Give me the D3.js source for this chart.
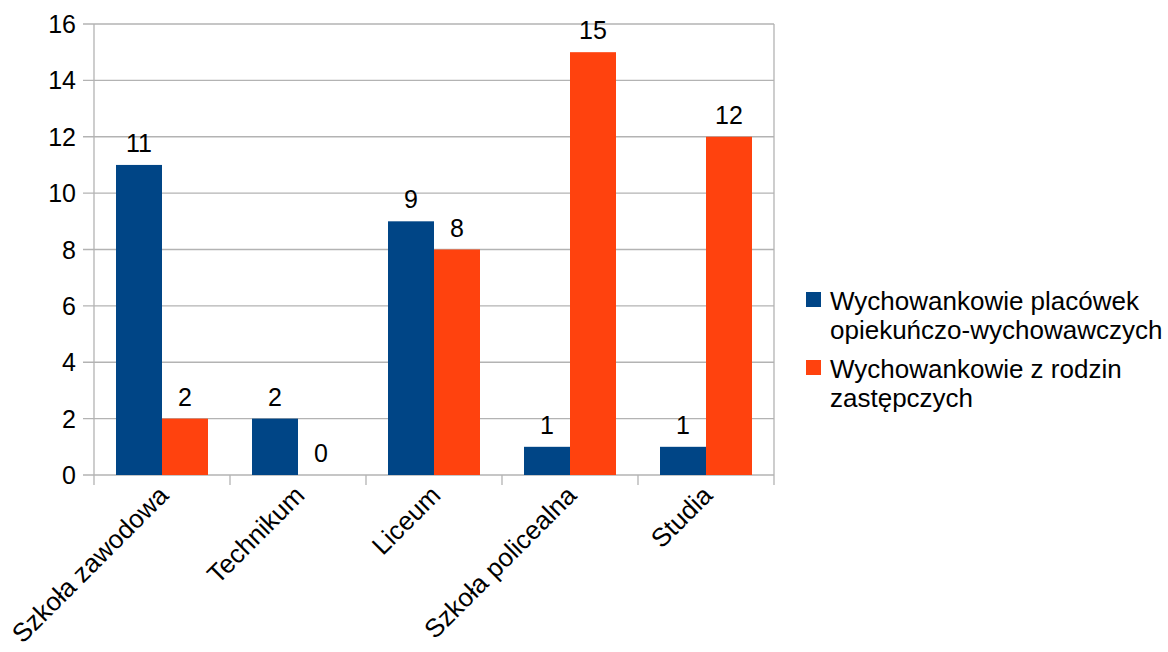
<!DOCTYPE html>
<html><head><meta charset="utf-8">
<script src="https://cdn.jsdelivr.net/npm/d3@7"></script>
<style>body{margin:0;background:#fff}svg{display:block}text{font-family:"Liberation Sans",Arial,sans-serif}</style>
</head><body>
<svg id="c" width="1168" height="652"></svg>
<script>
const categories = ["Szkoła zawodowa","Technikum","Liceum","Szkoła policealna","Studia"];
const seriesNames = [["Wychowankowie placówek","opiekuńczo-wychowawczych"],["Wychowankowie z rodzin","zastępczych"]];
const seriesA = [11,2,9,1,1];
const seriesB = [2,0,8,15,12];
const yTicks = [0,2,4,6,8,10,12,14,16];
const colors = ["#004586","#ff420e"];

const svg = d3.select("#c");
const L=94,R=774,T=24,B=475;
const x = d3.scaleBand().domain(categories).range([L,R]);
const y = d3.scaleLinear().domain([0,16]).range([B,T]);
const grid="#b3b3b3";
const fs=25;

svg.append("g").selectAll("line").data(yTicks).join("line")
  .attr("x1",L-11).attr("x2",R).attr("y1",d=>y(d)).attr("y2",d=>y(d))
  .attr("stroke",grid).attr("stroke-width",1.3);
svg.append("g").selectAll("text").data(yTicks).join("text")
  .attr("x",L-18).attr("y",d=>y(d)+9).attr("text-anchor","end").attr("font-size",fs).text(d=>d);
svg.append("line").attr("x1",L).attr("x2",L).attr("y1",T).attr("y2",B+10).attr("stroke",grid).attr("stroke-width",1.3);
svg.append("line").attr("x1",R).attr("x2",R).attr("y1",T).attr("y2",B+10).attr("stroke",grid).attr("stroke-width",1.3);
svg.append("g").selectAll("line").data(categories.slice(1)).join("line")
  .attr("x1",d=>x(d)).attr("x2",d=>x(d)).attr("y1",B).attr("y2",B+10).attr("stroke",grid).attr("stroke-width",1.3);

const bw=46, off=(x.bandwidth()-2*bw)/2;
[seriesA,seriesB].forEach((s,si)=>{
  const g=svg.append("g");
  g.selectAll("rect").data(s).join("rect")
    .attr("x",(d,i)=>x(categories[i])+off+si*bw).attr("width",bw)
    .attr("y",d=>y(d)).attr("height",d=>B-y(d)).attr("fill",colors[si]);
  g.selectAll("text").data(s).join("text")
    .attr("x",(d,i)=>x(categories[i])+off+si*bw+bw/2).attr("y",d=>y(d)-13)
    .attr("text-anchor","middle").attr("font-size",fs).text(d=>d);
});

svg.append("g").selectAll("text").data(categories).join("text")
  .attr("transform",d=>`translate(${x(d)+x.bandwidth()/2+8},${B+22}) rotate(-45)`)
  .attr("text-anchor","end").attr("font-size",26).text(d=>d);

const lg=svg.append("g");
const lY=[299,367];
seriesNames.forEach((n,i)=>{
  lg.append("rect").attr("x",806).attr("y",lY[i]-7).attr("width",15).attr("height",15).attr("fill",colors[i]);
  n.forEach((t,j)=>lg.append("text").attr("x",830).attr("y",lY[i]+11+j*29).attr("font-size",26).text(t));
});
</script>
</body></html>
